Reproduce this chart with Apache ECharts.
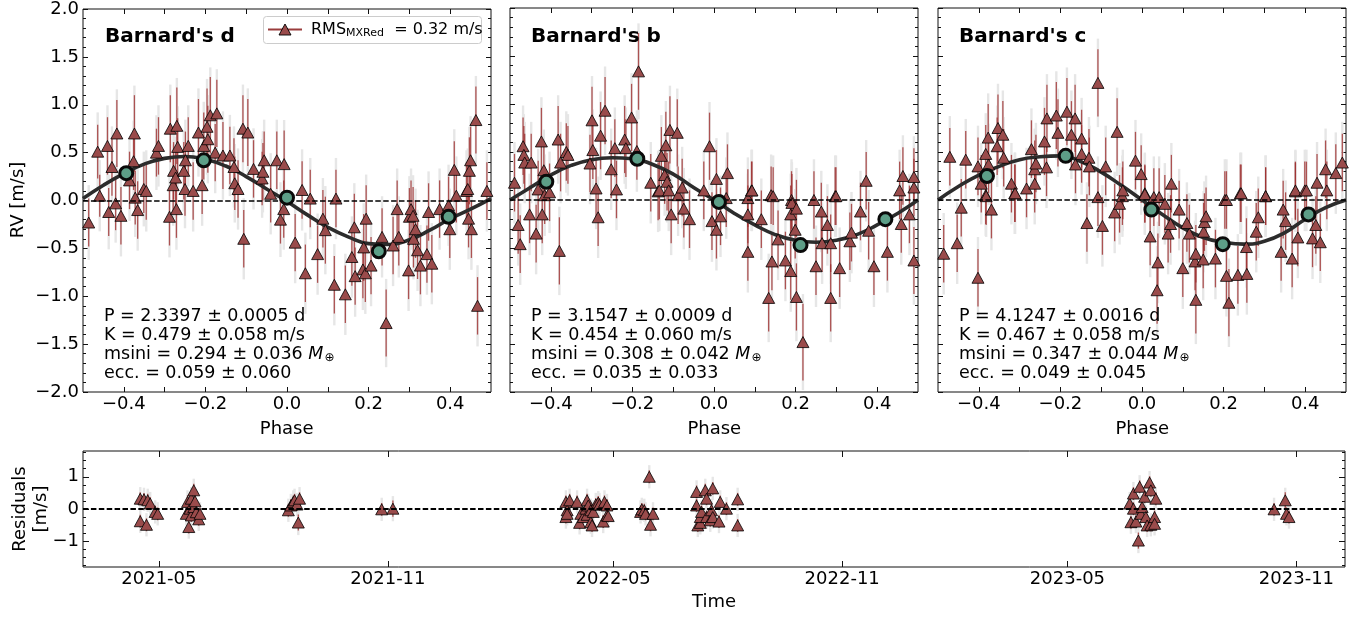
<!DOCTYPE html>
<html><head><meta charset="utf-8">
<script src="https://cdn.jsdelivr.net/npm/echarts@6/dist/echarts.min.js"></script>
<style>html,body{margin:0;padding:0;background:#fff}#c{width:1364px;height:619px}</style>
</head><body><div id="c"></div>
<script>
// ---------------- DATA ----------------
const TITLES = ["Barnard's d", "Barnard's b", "Barnard's c"];
const STATS_D = ["P = 2.3397 ± 0.0005 d", "K = 0.479 ± 0.058 m/s", "msini = 0.294 ± 0.036 ", "ecc. = 0.059 ± 0.060"];
const STATS_B = ["P = 3.1547 ± 0.0009 d", "K = 0.454 ± 0.060 m/s", "msini = 0.308 ± 0.042 ", "ecc. = 0.035 ± 0.033"];
const STATS_C = ["P = 4.1247 ± 0.0016 d", "K = 0.467 ± 0.058 m/s", "msini = 0.347 ± 0.044 ", "ecc. = 0.049 ± 0.045"];
const LEGEND_LABEL = ["RMS", "MXRed", "  = 0.32 m/s"];

const PHASE_TICKS = [-0.4,-0.3,-0.2,-0.1,0,0.1,0.2,0.3,0.4];
const PHASE_LABELS = [-0.4,-0.2,0,0.2,0.4];
const RV_MAJOR = [-2,-1.5,-1,-0.5,0,0.5,1,1.5,2];
const RV_MINOR = [-1.9,-1.8,-1.7,-1.6,-1.4,-1.3,-1.2,-1.1,-0.9,-0.8,-0.7,-0.6,-0.4,-0.3,-0.2,-0.1,0.1,0.2,0.3,0.4,0.6,0.7,0.8,0.9,1.1,1.2,1.3,1.4,1.6,1.7,1.8,1.9];
const RES_MAJOR = [-1,0,1];
const RES_MINOR = [-1.75,-1.5,-1.25,-0.75,-0.5,-0.25,0.25,0.5,0.75,1.25,1.5,1.75];
const TIME_TICKS = ["2021-05-01","2021-11-01","2022-05-01","2022-11-01","2023-05-01","2023-11-01"];
const TIME_RANGE = ["2021-03-01","2023-12-10"];
const JITTER = 0.3;

// model curves at these phases
const MODEL_PHASE = [-0.5,-0.45,-0.4,-0.35,-0.3,-0.25,-0.2,-0.15,-0.1,-0.05,0,0.05,0.1,0.15,0.2,0.25,0.3,0.35,0.4,0.45,0.5];
const MODEL_D = [0.02,0.16,0.28,0.38,0.44,0.46,0.43,0.36,0.25,0.12,-0.01,-0.15,-0.28,-0.38,-0.45,-0.46,-0.41,-0.31,-0.19,-0.09,0.02];
const MODEL_B = [0.0,0.13,0.26,0.36,0.42,0.44,0.43,0.37,0.27,0.13,0.0,-0.14,-0.26,-0.36,-0.42,-0.44,-0.42,-0.36,-0.26,-0.14,0.0];
const MODEL_C = [0.0,0.14,0.26,0.35,0.42,0.45,0.46,0.40,0.29,0.15,0.0,-0.15,-0.29,-0.39,-0.44,-0.46,-0.43,-0.34,-0.20,-0.08,0.0];

// binned points [phase, rv]
const BIN_D = [[-0.394,0.285],[-0.204,0.42],[0.0,0.03],[0.225,-0.53],[0.396,-0.17]];
const BIN_B = [[-0.411,0.19],[-0.188,0.43],[0.012,-0.02],[0.212,-0.47],[0.42,-0.20]];
const BIN_C = [[-0.38,0.25],[-0.187,0.46],[0.023,-0.10],[0.198,-0.46],[0.408,-0.15]];

// phase-folded RVs [phase, rv, err]
const RV_D = [
[-0.486,-0.23,0.25],[-0.464,0.51,0.28],[-0.459,0.05,0.22],[-0.44,0.57,0.3],[-0.437,-0.12,0.25],
[-0.429,0.35,0.3],[-0.42,-0.03,0.28],[-0.417,0.70,0.35],[-0.407,-0.16,0.3],[-0.386,0.21,0.3],
[-0.376,0.41,0.3],[-0.374,0.70,0.4],[-0.372,0.03,0.28],[-0.366,-0.10,0.3],[-0.351,0.12,0.25],
[-0.345,0.10,0.3],[-0.32,0.50,0.25],[-0.315,0.57,0.3],[-0.288,-0.17,0.3],[-0.286,0.75,0.35],
[-0.279,0.16,0.3],[-0.278,0.31,0.3],[-0.273,0.24,0.3],[-0.271,-0.09,0.3],[-0.27,0.78,0.4],
[-0.268,0.56,0.3],[-0.253,0.31,0.3],[-0.25,0.12,0.28],[-0.249,0.42,0.3],[-0.242,0.57,0.3],
[-0.23,0.10,0.3],[-0.217,0.71,0.35],[-0.208,0.16,0.3],[-0.204,0.57,0.35],[-0.196,0.77,0.4],
[-0.194,0.64,0.35],[-0.188,0.89,0.4],[-0.176,0.50,0.3],[-0.172,0.91,0.35],[-0.157,0.47,0.35],
[-0.14,0.47,0.3],[-0.13,0.35,0.3],[-0.128,0.18,0.28],[-0.12,0.12,0.3],[-0.108,0.75,0.35],
[-0.106,-0.40,0.3],[-0.096,0.71,0.35],[-0.082,0.33,0.3],[-0.061,0.23,0.28],[-0.059,0.30,0.3],
[-0.056,0.42,0.3],[-0.04,0.07,0.3],[-0.025,0.42,0.3],[-0.016,-0.20,0.25],[-0.008,-0.09,0.3],
[-0.007,0.38,0.35],[0.02,-0.44,0.3],[0.037,0.11,0.3],[0.045,-0.76,0.3],[0.057,0.02,0.3],
[0.075,-0.56,0.3],[0.088,-0.19,0.3],[0.094,-0.31,0.35],[0.116,-0.88,0.3],[0.12,0.02,0.3],
[0.143,-0.98,0.3],[0.159,-0.59,0.3],[0.165,-0.28,0.35],[0.167,-0.79,0.3],[0.186,-0.72,0.3],
[0.188,-0.49,0.35],[0.192,-0.76,0.3],[0.194,-0.19,0.35],[0.206,-0.68,0.3],[0.233,-0.38,0.3],
[0.243,-1.28,0.35],[0.26,-0.47,0.3],[0.27,-0.09,0.3],[0.274,-0.38,0.3],[0.298,-0.73,0.3],
[0.3,-0.17,0.3],[0.304,-0.09,0.3],[0.309,-0.16,0.3],[0.31,-0.40,0.3],[0.315,-0.30,0.3],
[0.32,-0.52,0.3],[0.327,-0.68,0.3],[0.343,-0.56,0.3],[0.347,-0.12,0.3],[0.355,-0.66,0.3],
[0.374,-0.09,0.3],[0.396,-0.05,0.3],[0.399,-0.30,0.3],[0.41,0.32,0.3],[0.415,0.05,0.28],
[0.44,0.10,0.3],[0.443,0.12,0.3],[0.445,-0.19,0.3],[0.447,0.31,0.35],[0.45,0.42,0.35],
[0.452,-0.30,0.3],[0.463,0.84,0.35],[0.467,-1.10,0.3],[0.49,0.10,0.3]
];
const RV_B = [
[-0.489,0.18,0.3],[-0.48,-0.26,0.3],[-0.475,-0.46,0.3],[-0.468,0.56,0.3],[-0.466,0.47,0.3],
[-0.464,0.39,0.3],[-0.452,-0.15,0.3],[-0.448,0.39,0.3],[-0.436,-0.35,0.3],[-0.431,0.11,0.3],
[-0.423,0.61,0.35],[-0.421,-0.15,0.3],[-0.417,0.31,0.3],[-0.415,0.05,0.3],[-0.403,0.08,0.3],
[-0.382,0.63,0.35],[-0.379,-0.53,0.35],[-0.376,0.39,0.3],[-0.362,0.50,0.3],[-0.358,0.47,0.3],
[-0.304,0.38,0.3],[-0.299,0.83,0.35],[-0.297,0.52,0.3],[-0.289,0.12,0.3],[-0.284,-0.18,0.3],
[-0.278,0.67,0.35],[-0.267,0.93,0.35],[-0.252,0.32,0.3],[-0.243,0.54,0.3],[-0.239,0.11,0.3],
[-0.219,0.63,0.35],[-0.216,0.54,0.3],[-0.202,0.86,0.35],[-0.189,0.51,0.3],[-0.185,1.34,0.4],
[-0.155,0.18,0.3],[-0.137,0.09,0.3],[-0.134,0.10,0.3],[-0.129,0.46,0.3],[-0.121,0.26,0.3],
[-0.118,0.57,0.35],[-0.115,0.19,0.3],[-0.111,0.10,0.3],[-0.108,0.73,0.35],[-0.105,-0.15,0.3],
[-0.09,0.70,0.35],[-0.088,0.05,0.3],[-0.078,0.13,0.3],[-0.074,-0.09,0.3],[-0.06,-0.20,0.3],
[-0.025,0.10,0.3],[-0.011,0.56,0.35],[-0.005,-0.22,0.3],[0.006,0.22,0.3],[0.006,-0.31,0.3],
[0.016,-0.17,0.3],[0.03,0.02,0.3],[0.033,0.28,0.3],[0.083,0.02,0.3],[0.083,-0.15,0.3],
[0.083,-0.54,0.3],[0.092,0.10,0.3],[0.093,0.10,0.3],[0.116,-0.20,0.3],[0.134,-1.02,0.35],
[0.14,0.05,0.3],[0.142,-0.64,0.3],[0.145,0.04,0.3],[0.157,-0.41,0.3],[0.175,-0.63,0.3],
[0.188,-0.74,0.3],[0.188,-0.15,0.3],[0.19,0.0,0.3],[0.191,-0.03,0.3],[0.199,-0.31,0.3],
[0.202,-0.09,0.3],[0.202,-1.01,0.35],[0.218,-1.48,0.4],[0.245,0.0,0.3],[0.25,-0.69,0.3],
[0.263,-0.12,0.3],[0.265,-0.45,0.3],[0.278,-0.26,0.3],[0.286,-0.45,0.3],[0.286,-1.02,0.35],
[0.297,0.04,0.3],[0.299,0.04,0.3],[0.308,-0.71,0.3],[0.333,-0.43,0.3],[0.337,-0.34,0.3],
[0.359,-0.12,0.3],[0.373,0.20,0.3],[0.379,-0.32,0.3],[0.392,-0.69,0.3],[0.425,-0.54,0.3],
[0.455,0.10,0.3],[0.459,-0.25,0.3],[0.463,0.25,0.3],[0.479,-0.15,0.3],[0.49,0.24,0.3],
[0.49,0.13,0.3],[0.49,-0.63,0.35]
];
const RV_C = [
[-0.486,-0.56,0.3],[-0.471,0.45,0.3],[-0.453,-0.45,0.3],[-0.443,-0.08,0.3],[-0.432,0.42,0.3],
[-0.402,0.35,0.3],[-0.402,-0.81,0.3],[-0.394,0.17,0.3],[-0.383,0.48,0.3],[-0.383,0.05,0.3],
[-0.382,0.04,0.3],[-0.377,0.65,0.35],[-0.376,0.37,0.3],[-0.369,-0.10,0.3],[-0.355,0.56,0.3],
[-0.353,0.75,0.35],[-0.341,0.68,0.35],[-0.339,0.44,0.3],[-0.32,0.17,0.3],[-0.312,0.07,0.3],
[-0.311,0.07,0.3],[-0.283,0.12,0.3],[-0.271,0.53,0.3],[-0.263,0.32,0.3],[-0.263,0.17,0.3],
[-0.26,0.38,0.3],[-0.239,0.61,0.35],[-0.234,0.34,0.3],[-0.233,0.85,0.35],[-0.21,0.88,0.35],
[-0.206,0.70,0.35],[-0.184,0.92,0.35],[-0.173,0.68,0.35],[-0.164,0.85,0.35],[-0.163,0.37,0.3],
[-0.148,0.64,0.3],[-0.148,0.48,0.3],[-0.135,-0.24,0.3],[-0.13,0.44,0.3],[-0.129,0.35,0.3],
[-0.108,1.22,0.35],[-0.108,0.03,0.3],[-0.097,-0.27,0.3],[-0.089,0.35,0.3],[-0.067,-0.13,0.3],
[-0.061,0.71,0.35],[-0.055,-0.04,0.3],[-0.048,0.04,0.3],[-0.047,0.10,0.3],[-0.016,0.41,0.3],
[-0.002,0.27,0.3],[0.007,0.07,0.3],[0.007,0.06,0.3],[0.02,-0.38,0.3],[0.029,0.03,0.3],
[0.037,-0.94,0.35],[0.039,-0.65,0.3],[0.042,0.03,0.3],[0.056,-0.04,0.3],[0.064,-0.35,0.3],
[0.07,-0.25,0.3],[0.072,0.17,0.3],[0.091,-0.10,0.3],[0.1,-0.71,0.3],[0.11,-0.24,0.3],
[0.116,-0.35,0.3],[0.13,-0.64,0.3],[0.132,-0.56,0.3],[0.132,-1.04,0.35],[0.15,-0.62,0.3],
[0.151,-0.33,0.3],[0.153,-0.23,0.3],[0.157,-0.17,0.3],[0.18,-0.61,0.3],[0.203,0.0,0.3],
[0.207,-0.79,0.3],[0.207,0.0,0.3],[0.213,-1.07,0.35],[0.235,-0.78,0.3],[0.241,0.07,0.3],
[0.243,0.07,0.3],[0.256,-0.49,0.3],[0.257,-0.77,0.3],[0.28,-0.33,0.3],[0.285,-0.18,0.3],
[0.303,0.04,0.3],[0.303,0.04,0.3],[0.341,-0.54,0.3],[0.346,-0.10,0.3],[0.352,-0.22,0.3],
[0.368,-0.61,0.3],[0.376,0.09,0.3],[0.376,0.10,0.3],[0.382,-0.39,0.3],[0.399,0.10,0.3],
[0.403,0.10,0.3],[0.418,-0.40,0.3],[0.426,-0.26,0.3],[0.429,0.18,0.3],[0.437,-0.44,0.3],
[0.45,0.32,0.3],[0.453,0.10,0.3],[0.475,0.28,0.3],[0.491,0.39,0.3]
];

// residuals [date, residual, err]
const RESID = [
["2021-04-16",0.32,0.2],["2021-04-16",-0.38,0.2],["2021-04-19",0.30,0.2],["2021-04-21",-0.49,0.2],
["2021-04-22",0.27,0.2],["2021-04-24",0.17,0.2],["2021-04-28",-0.09,0.2],["2021-04-30",-0.15,0.2],
["2021-05-23",-0.15,0.2],["2021-05-24",0.22,0.2],["2021-05-25",-0.56,0.2],["2021-05-26",0.01,0.2],
["2021-05-27",0.32,0.2],["2021-05-27",-0.20,0.2],["2021-05-29",0.58,0.2],["2021-05-29",0.06,0.2],
["2021-05-30",0.24,0.2],["2021-05-31",-0.10,0.2],["2021-06-02",-0.32,0.2],["2021-06-03",-0.15,0.2],
["2021-08-13",-0.04,0.2],["2021-08-15",0.11,0.2],["2021-08-17",0.22,0.2],["2021-08-18",0.27,0.2],
["2021-08-20",0.14,0.2],["2021-08-21",-0.42,0.25],["2021-08-22",0.32,0.2],
["2021-10-27",-0.01,0.2],["2021-11-05",0.01,0.25],
["2022-03-24",-0.25,0.2],["2022-03-24",0.22,0.2],["2022-03-25",-0.04,0.2],["2022-03-25",-0.15,0.2],
["2022-03-27",0.27,0.2],["2022-04-02",0.22,0.2],["2022-04-04",-0.43,0.2],["2022-04-05",-0.15,0.2],
["2022-04-07",-0.25,0.2],["2022-04-09",0.01,0.2],["2022-04-10",0.27,0.2],["2022-04-10",-0.18,0.2],
["2022-04-11",0.11,0.2],["2022-04-13",-0.04,0.2],["2022-04-13",-0.41,0.2],["2022-04-14",-0.51,0.2],
["2022-04-15",-0.09,0.2],["2022-04-17",0.14,0.2],["2022-04-19",0.20,0.2],["2022-04-20",0.14,0.2],
["2022-04-23",-0.39,0.2],["2022-04-24",0.22,0.2],["2022-04-26",0.11,0.2],["2022-04-26",-0.20,0.2],
["2022-04-27",-0.22,0.2],
["2022-05-23",-0.09,0.2],["2022-05-24",-0.01,0.2],["2022-05-26",-0.04,0.2],["2022-05-27",-0.15,0.2],
["2022-05-30",1.00,0.2],["2022-05-31",-0.49,0.2],["2022-06-02",-0.15,0.2],
["2022-07-07",0.53,0.2],["2022-07-07",0.11,0.2],["2022-07-08",-0.51,0.2],["2022-07-10",-0.43,0.2],
["2022-07-10",-0.25,0.2],["2022-07-11",-0.09,0.2],["2022-07-14",0.58,0.2],["2022-07-15",0.32,0.2],
["2022-07-15",-0.25,0.2],["2022-07-18",-0.35,0.2],["2022-07-19",-0.04,0.2],["2022-07-20",0.64,0.2],
["2022-07-20",-0.25,0.2],["2022-07-25",-0.39,0.2],["2022-07-26",0.22,0.2],["2022-07-31",0.01,0.2],
["2022-08-09",0.30,0.2],["2022-08-09",-0.51,0.2],
["2023-06-20",0.17,0.2],["2023-06-21",-0.41,0.2],["2023-06-23",0.48,0.2],["2023-06-23",0.01,0.2],
["2023-06-25",-0.39,0.2],["2023-06-27",-0.98,0.25],["2023-06-28",0.69,0.2],["2023-06-29",-0.15,0.2],
["2023-06-30",0.06,0.2],["2023-07-02",0.38,0.2],["2023-07-03",-0.25,0.2],["2023-07-04",-0.51,0.2],
["2023-07-06",0.82,0.2],["2023-07-07",-0.49,0.2],["2023-07-07",0.58,0.2],["2023-07-10",-0.25,0.2],
["2023-07-10",-0.46,0.2],["2023-07-11",0.32,0.2],
["2023-10-14",-0.01,0.2],["2023-10-23",0.27,0.25],["2023-10-24",-0.15,0.2],["2023-10-26",-0.25,0.2]
];

// ---------------- CHART ----------------
const FONT = 'DejaVu Sans';
const TRI_FILL = '#9a4b4b';
const ERR_RED = 'rgba(158,45,45,0.8)';
const ERR_GREY = '#e6e6e6';
const GREEN = '#5d9e87';
const ts = s => { const p = s.split('-').map(Number); return Date.UTC(p[0], p[1]-1, p[2]); };
const fmt1 = v => (Math.abs(v) < 1e-9 ? '0.0' : v.toFixed(1)).replace('-', '\u2212');
const fmtInt = v => String(Math.round(v)).replace('-', '\u2212');
const fmtDate = v => { const d = new Date(v); return d.getUTCFullYear() + '-' + String(d.getUTCMonth()+1).padStart(2,'0'); };

const PANEL_LEFT = [83, 510, 938];
const grids = PANEL_LEFT.map(l => ({left: l, top: 8, width: 408, height: 384, show: true, borderColor: '#111', borderWidth: 1, backgroundColor: 'transparent'}));
grids.push({left: 83, top: 451, width: 1262, height: 116, show: true, borderColor: '#111', borderWidth: 1, backgroundColor: 'transparent'});

const tickStyle = {color: '#111', width: 1};
function xAx(gi, pos, showLab, min, max, ticks, labs, fmt, len, margin) {
  return {type: 'value', gridIndex: gi, position: pos, min, max,
    axisLine: {show: false, onZero: false}, splitLine: {show: false},
    axisTick: {show: true, inside: true, length: len, lineStyle: tickStyle, customValues: ticks},
    axisLabel: {show: showLab, customValues: labs, formatter: fmt, color: '#000', fontSize: 18, fontFamily: FONT, margin}};
}
function yAx(gi, pos, showLab, min, max, ticks, len, fmt) {
  return {type: 'value', gridIndex: gi, position: pos, min, max,
    axisLine: {show: false, onZero: false}, splitLine: {show: false},
    axisTick: {show: true, inside: true, length: len, lineStyle: tickStyle, customValues: ticks},
    axisLabel: {show: showLab, customValues: ticks, formatter: fmt, color: '#000', fontSize: 18, fontFamily: FONT, margin: 4}};
}
const xAxes = [], yAxes = [];
for (let i = 0; i < 3; i++) {
  xAxes.push(xAx(i, 'bottom', true, -0.5, 0.5, PHASE_TICKS, PHASE_LABELS, fmt1, 5, 3));
  xAxes.push(xAx(i, 'top', false, -0.5, 0.5, PHASE_TICKS, PHASE_LABELS, fmt1, 5, 3));
  yAxes.push(yAx(i, 'left', i === 0, -2, 2, RV_MAJOR, 5, fmt1));
  yAxes.push(yAx(i, 'left', false, -2, 2, RV_MINOR, 3, fmt1));
  yAxes.push(yAx(i, 'right', false, -2, 2, RV_MAJOR, 5, fmt1));
  yAxes.push(yAx(i, 'right', false, -2, 2, RV_MINOR, 3, fmt1));
}
const tTicks = TIME_TICKS.map(ts);
xAxes.push(xAx(3, 'bottom', true, ts(TIME_RANGE[0]), ts(TIME_RANGE[1]), tTicks, tTicks, fmtDate, 6, 3));
xAxes.push(xAx(3, 'top', false, ts(TIME_RANGE[0]), ts(TIME_RANGE[1]), tTicks, tTicks, fmtDate, 6, 3));
yAxes.push(yAx(3, 'left', true, -1.8, 1.8, RES_MAJOR, 6, fmtInt));
yAxes.push(yAx(3, 'left', false, -1.8, 1.8, RES_MINOR, 3, fmtInt));
yAxes.push(yAx(3, 'right', false, -1.8, 1.8, RES_MAJOR, 6, fmtInt));
yAxes.push(yAx(3, 'right', false, -1.8, 1.8, RES_MINOR, 3, fmtInt));

function errSeries(data, xi, yi, grey) {
  return {type: 'custom', xAxisIndex: xi, yAxisIndex: yi, clip: true, silent: true, z: grey ? 1 : 2,
    data: data,
    renderItem: (params, api) => {
      const x = api.value(0), y = api.value(1), e0 = api.value(2);
      const e = grey ? Math.sqrt(e0 * e0 + JITTER * JITTER) : e0;
      const a = api.coord([x, y + e]), b = api.coord([x, y - e]);
      return {type: 'line', shape: {x1: a[0], y1: a[1], x2: b[0], y2: b[1]},
        style: {stroke: grey ? ERR_GREY : ERR_RED, lineWidth: grey ? 2.4 : 1.3}};
    }};
}
const zeroLine = (w) => ({silent: true, symbol: ['none', 'none'], label: {show: false},
  lineStyle: {type: [5.5, 2.4], color: '#000', width: w}, data: [{yAxis: 0}]});

const series = [];
const RVS = [RV_D, RV_B, RV_C], MODELS = [MODEL_D, MODEL_B, MODEL_C], BINS = [BIN_D, BIN_B, BIN_C];
for (let i = 0; i < 3; i++) {
  const xi = 2 * i, yi = 4 * i;
  series.push(errSeries(RVS[i], xi, yi, true));
  series.push(errSeries(RVS[i], xi, yi, false));
  series.push({type: 'line', xAxisIndex: xi, yAxisIndex: yi, z: 3, silent: true, showSymbol: false, smooth: true,
    data: MODEL_PHASE.map((p, k) => [p, MODELS[i][k]]),
    lineStyle: {color: '#2c2c2c', width: 3.6}, markLine: zeroLine(1.5)});
  series.push({type: 'scatter', xAxisIndex: xi, yAxisIndex: yi, z: 4, silent: true,
    data: RVS[i].map(d => [d[0], d[1]]), symbol: 'triangle', symbolSize: [12, 11],
    itemStyle: {color: TRI_FILL, borderColor: '#000', borderWidth: 0.8, opacity: 1}});
  series.push({type: 'scatter', xAxisIndex: xi, yAxisIndex: yi, z: 5, silent: true,
    data: BINS[i], symbol: 'circle', symbolSize: 13,
    itemStyle: {color: GREEN, borderColor: '#0a0a0a', borderWidth: 3, opacity: 1}});
}
const resData = RESID.map(d => [ts(d[0]), d[1], d[2]]);
series.push(errSeries(resData, 6, 12, true));
series.push(errSeries(resData, 6, 12, false));
series.push({type: 'scatter', xAxisIndex: 6, yAxisIndex: 12, z: 4, silent: true,
  data: resData.map(d => [d[0], d[1]]), symbol: 'triangle', symbolSize: [12, 11],
  itemStyle: {color: TRI_FILL, borderColor: '#000', borderWidth: 0.8, opacity: 1},
  markLine: zeroLine(2)});

// text
const graphics = [];
const STATS = [STATS_D, STATS_B, STATS_C];
const TITLE_X = [105, 531, 959];
const STATS_X = [104, 531, 959];
const PHASE_CX = [286.7, 714.3, 1142.3];
for (let i = 0; i < 3; i++) {
  graphics.push({type: 'text', x: TITLE_X[i], y: 37, silent: true, z: 10,
    style: {text: TITLES[i], font: 'bold 20px "DejaVu Sans"', fill: '#000', verticalAlign: 'middle', align: 'left'}});
  const s = STATS[i];
  graphics.push({type: 'text', x: STATS_X[i], y: 306.5, silent: true, z: 10,
    style: {text: '{n|' + s[0] + '}\n{n|' + s[1] + '}\n{n|' + s[2] + '}{i|M}{s|\u2295}\n{n|' + s[3] + '}',
      fill: '#000', align: 'left', verticalAlign: 'top',
      rich: {n: {fontSize: 17.5, fontFamily: FONT, lineHeight: 19, fill: '#000'},
             i: {fontSize: 17.5, fontFamily: FONT, fontStyle: 'italic', lineHeight: 19, fill: '#000'},
             s: {fontSize: 12, fontFamily: FONT, lineHeight: 12, padding: [7, 0, 0, 1], fill: '#000'}}}});
  graphics.push({type: 'text', x: PHASE_CX[i], y: 429, silent: true,
    style: {text: 'Phase', font: '18px "DejaVu Sans"', fill: '#000', align: 'center', verticalAlign: 'middle'}});
}
graphics.push({type: 'text', x: 714, y: 602, silent: true,
  style: {text: 'Time', font: '18px "DejaVu Sans"', fill: '#000', align: 'center', verticalAlign: 'middle'}});
graphics.push({type: 'text', x: 18, y: 200, rotation: Math.PI / 2, silent: true,
  style: {text: 'RV [m/s]', font: '18px "DejaVu Sans"', fill: '#000', align: 'center', verticalAlign: 'middle'}});
graphics.push({type: 'text', x: 31, y: 509, rotation: Math.PI / 2, silent: true,
  style: {text: 'Residuals\n[m/s]', font: '18px "DejaVu Sans"', lineHeight: 21, fill: '#000', align: 'center', verticalAlign: 'middle'}});
// legend
graphics.push({type: 'rect', silent: true, z: 20, shape: {x: 263.5, y: 16.5, width: 218, height: 27, r: 3},
  style: {fill: 'rgba(255,255,255,0.85)', stroke: '#cccccc', lineWidth: 1}});
graphics.push({type: 'line', silent: true, z: 21, shape: {x1: 268, y1: 29.5, x2: 302, y2: 29.5},
  style: {stroke: '#9a3c3c', lineWidth: 2}});
graphics.push({type: 'polygon', silent: true, z: 22, shape: {points: [[279, 35], [291, 35], [285, 24]]},
  style: {fill: TRI_FILL, stroke: '#000', lineWidth: 0.9}});
graphics.push({type: 'text', silent: true, z: 22, x: 311, y: 29.5,
  style: {text: '{a|' + LEGEND_LABEL[0] + '}{b|' + LEGEND_LABEL[1] + '}{a|' + LEGEND_LABEL[2] + '}',
    align: 'left', verticalAlign: 'middle',
    rich: {a: {fontSize: 16, fontFamily: FONT, lineHeight: 18, fill: '#000'},
           b: {fontSize: 11, fontFamily: FONT, lineHeight: 11, padding: [7, 0, 0, 0], fill: '#000'}}}});

const chart = echarts.init(document.getElementById('c'), null, {renderer: 'canvas'});
chart.setOption({animation: false, backgroundColor: '#fff', grid: grids, xAxis: xAxes, yAxis: yAxes, series, graphic: graphics});
</script>
</body></html>
